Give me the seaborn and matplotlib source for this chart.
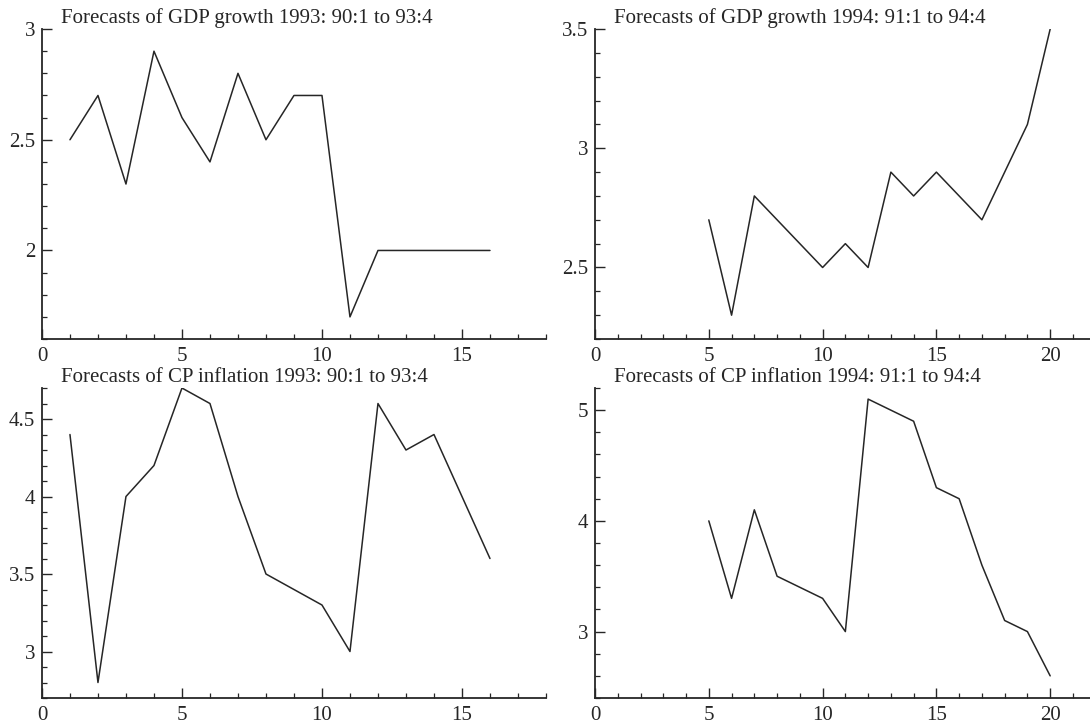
import matplotlib
matplotlib.use('Agg')
import matplotlib.pyplot as plt
import matplotlib.ticker as ticker
import seaborn as sns

# forecast horizons (quarter index)
horizon_93 = list(range(1, 17))
horizon_94 = list(range(5, 21))

# GDP growth forecasts
gdp_1993 = [2.5, 2.7, 2.3, 2.9, 2.6, 2.4, 2.8, 2.5, 2.7, 2.7, 1.7, 2.0, 2.0, 2.0, 2.0, 2.0]
gdp_1994 = [2.7, 2.3, 2.8, 2.7, 2.6, 2.5, 2.6, 2.5, 2.9, 2.8, 2.9, 2.8, 2.7, 2.9, 3.1, 3.5]

# CP inflation forecasts
cpi_1993 = [4.4, 2.8, 4.0, 4.2, 4.7, 4.6, 4.0, 3.5, 3.4, 3.3, 3.0, 4.6, 4.3, 4.4, 4.0, 3.6]
cpi_1994 = [4.0, 3.3, 4.1, 3.5, 3.4, 3.3, 3.0, 5.1, 5.0, 4.9, 4.3, 4.2, 3.6, 3.1, 3.0, 2.6]

titles = [
    'Forecasts of GDP growth 1993: 90:1 to 93:4',
    'Forecasts of GDP growth 1994: 91:1 to 94:4',
    'Forecasts of CP inflation 1993: 90:1 to 93:4',
    'Forecasts of CP inflation 1994: 91:1 to 94:4',
]

sns.set_theme(style='ticks')
plt.rcParams['font.family'] = ['Liberation Serif', 'DejaVu Serif']
ink = '#262626'

fig = plt.figure(figsize=(10.9, 7.28), dpi=100)

# panel boxes in figure fractions: left, bottom, width, height
panels = [
    dict(rect=[0.0385, 0.5343, 0.4624, 0.4258], x=horizon_93, y=gdp_1993,
         xlim=(0, 18), ylim=(1.6, 3.0), major=0.5, minor=0.1),
    dict(rect=[0.5459, 0.5343, 0.4541, 0.4258], x=horizon_94, y=gdp_1994,
         xlim=(0, 21.75), ylim=(2.2, 3.5), major=0.5, minor=0.1),
    dict(rect=[0.0385, 0.0412, 0.4624, 0.4258], x=horizon_93, y=cpi_1993,
         xlim=(0, 18), ylim=(2.7, 4.7), major=0.5, minor=0.1),
    dict(rect=[0.5459, 0.0412, 0.4541, 0.4258], x=horizon_94, y=cpi_1994,
         xlim=(0, 21.75), ylim=(2.4, 5.2), major=1.0, minor=0.2),
]

for p, title in zip(panels, titles):
    ax = fig.add_axes(p['rect'])
    sns.lineplot(x=p['x'], y=p['y'], ax=ax, color=ink, linewidth=1.1)
    ax.set_xlim(*p['xlim'])
    ax.set_ylim(*p['ylim'])
    ax.xaxis.set_major_locator(ticker.MultipleLocator(5))
    ax.xaxis.set_minor_locator(ticker.MultipleLocator(1))
    ax.yaxis.set_major_locator(ticker.MultipleLocator(p['major']))
    ax.yaxis.set_minor_locator(ticker.MultipleLocator(p['minor']))
    ax.yaxis.set_major_formatter(ticker.FuncFormatter(lambda v, pos: f'{v:g}'))
    ax.tick_params(which='major', direction='in', length=7, width=1.0,
                   colors=ink, labelsize=15, labelcolor=ink)
    ax.tick_params(which='minor', direction='in', length=3.5, width=0.9, colors=ink)
    ax.tick_params(axis='x', which='major', pad=6)
    ax.tick_params(axis='y', which='major', pad=5)
    sns.despine(ax=ax)
    for side in ['left', 'bottom']:
        ax.spines[side].set_color(ink)
        ax.spines[side].set_linewidth(1.3)
    ax.patch.set_alpha(0)
    ax.annotate(title, xy=(0, 1), xycoords='axes fraction', xytext=(14, 4),
                textcoords='offset points', ha='left', va='baseline',
                fontsize=15, color=ink)

fig.savefig('out.png', dpi=100)
